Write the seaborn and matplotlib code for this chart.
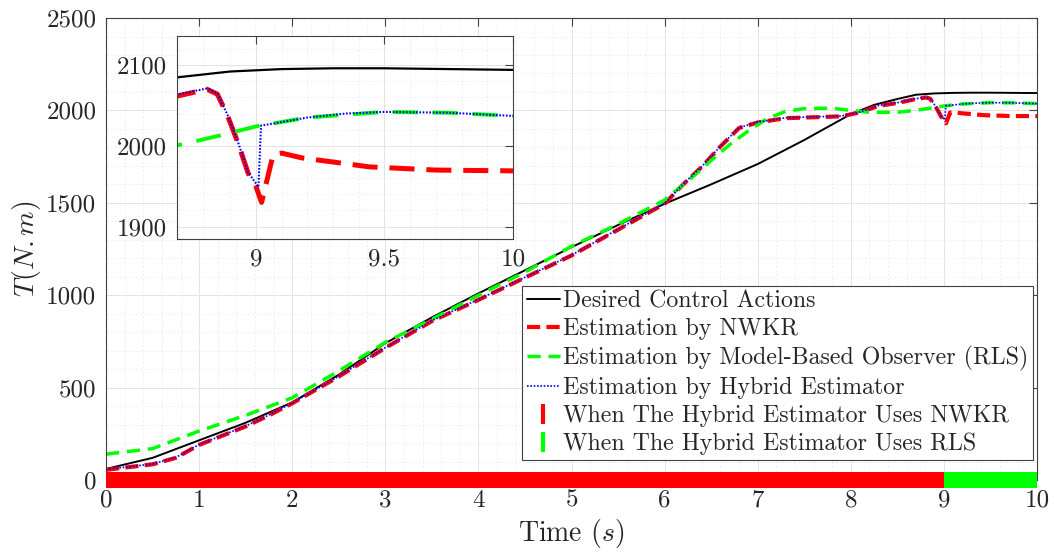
import numpy as np
import pandas as pd
import matplotlib
matplotlib.use("Agg")
import matplotlib.pyplot as plt
from matplotlib.lines import Line2D
from matplotlib.ticker import MultipleLocator
import seaborn as sns

# ---------------- data ----------------
t_des = [0, 0.5, 1, 1.5, 2, 2.5, 3, 3.5, 4, 4.5, 5, 5.5, 6, 6.5, 7, 7.5, 8, 8.25, 8.5,
         8.7, 8.9, 9.1, 9.3, 9.5, 9.75, 10]
desired = [60, 120, 215, 310, 420, 570, 740, 880, 1010, 1135, 1260, 1380, 1495, 1600,
           1710, 1840, 1980, 2030, 2062, 2085, 2092, 2095, 2096, 2096, 2095, 2094]

t_nwkr = [0, 0.25, 0.5, 0.75, 1, 1.25, 1.5, 1.75, 2, 2.5, 3, 3.5, 4, 4.5, 5, 5.5, 6,
          6.2, 6.4, 6.6, 6.8, 7.0, 7.3, 7.6, 7.9, 8.1, 8.3, 8.5, 8.7, 8.81, 8.85, 8.89,
          8.93, 8.97, 9.0, 9.022, 9.045, 9.067, 9.1, 9.18, 9.3, 9.44, 9.7, 10]
nwkr = [55, 70, 85, 120, 190, 240, 290, 350, 415, 560, 715, 860, 975, 1095, 1215, 1355,
        1495, 1600, 1695, 1805, 1905, 1935, 1958, 1963, 1968, 1990, 2025, 2040, 2062,
        2070, 2064, 2037, 2004, 1966, 1950, 1930, 1960, 1989, 1991, 1985, 1980, 1974,
        1970, 1969]

t_rls = [0, 0.5, 1, 1.5, 2, 2.5, 3, 3.5, 4, 4.5, 5, 5.5, 6, 6.3, 6.5, 6.7, 6.9, 7.1,
         7.3, 7.5, 7.8, 8.0, 8.2, 8.5, 8.7, 8.85, 9.0, 9.2, 9.5, 9.75, 10]
rls = [140, 170, 265, 350, 445, 590, 745, 870, 1000, 1125, 1265, 1385, 1515, 1640, 1730,
       1815, 1890, 1955, 1995, 2010, 2012, 2000, 1990, 1990, 2001, 2012, 2024, 2035,
       2042, 2041, 2037]

t_hyb = [0, 0.25, 0.5, 0.75, 1, 1.25, 1.5, 1.75, 2, 2.5, 3, 3.5, 4, 4.5, 5, 5.5, 6,
         6.2, 6.4, 6.6, 6.8, 7.0, 7.3, 7.6, 7.9, 8.1, 8.3, 8.5, 8.7, 8.81, 8.85, 8.89,
         8.93, 8.97, 9.01, 9.02, 9.2, 9.35, 9.5, 9.75, 10]
hybrid = [58, 72, 87, 122, 192, 242, 292, 352, 417, 562, 717, 862, 977, 1097, 1217, 1357,
          1497, 1602, 1697, 1807, 1907, 1937, 1960, 1965, 1970, 1992, 2027, 2042, 2064,
          2071, 2065, 2038, 2005, 1967, 1949, 2025, 2035, 2040, 2042, 2041, 2037]

# estimator in use by the hybrid scheme: (start, end, mode)
mode_start = [0, 9]
mode_end = [9, 10]
mode_name = ["NWKR", "RLS"]

x_ticks = [0, 1, 2, 3, 4, 5, 6, 7, 8, 9, 10]
y_ticks = [0, 500, 1000, 1500, 2000, 2500]
inset_x_ticks = [9, 9.5, 10]
inset_y_ticks = [1900, 2000, 2100]

labels = ["Desired Control Actions", "Estimation by NWKR",
          "Estimation by Model-Based Observer (RLS)", "Estimation by Hybrid Estimator",
          "When The Hybrid Estimator Uses NWKR", "When The Hybrid Estimator Uses RLS"]

# ---------------- style ----------------
sns.set_theme(style="white")
plt.rcParams["font.family"] = ["cmr10", "DejaVu Serif"]
plt.rcParams["mathtext.fontset"] = "cm"
plt.rcParams["axes.formatter.use_mathtext"] = True
plt.rcParams["lines.scale_dashes"] = False
plt.rcParams["axes.unicode_minus"] = False

RED, GREEN, BLUE, BLACK = "#ff0000", "#00ff00", "#0000ff", "#000000"
AXC = "#404040"

fig = plt.figure(figsize=(10.54, 5.55), dpi=100)
ax = fig.add_axes([0.1006, 0.1351, 0.8833, 0.8324])


def style_axes(a, fs):
    for s in a.spines.values():
        s.set_color(AXC)
        s.set_linewidth(0.8)
    a.tick_params(which="major", direction="in", length=6, width=0.8, colors=AXC,
                  top=True, right=True, labelsize=fs, labelcolor="#262626", pad=7)
    a.tick_params(which="minor", length=0)
    a.grid(True, which="major", color="#e3e3e3", lw=0.7, ls="-")
    a.grid(True, which="minor", color="#ececec", lw=0.6, ls=(0, (1.5, 1.5)))
    a.set_axisbelow(True)


def draw_series(a, inset=False):
    k = 1.9 if inset else 1.0
    sns.lineplot(x=t_des, y=desired, ax=a, color=BLACK, lw=1.4 if not inset else 1.6,
                 sort=False, estimator=None)
    sns.lineplot(x=t_nwkr, y=nwkr, ax=a, color=RED, lw=3.0 if not inset else 3.6,
                 sort=False, estimator=None, dashes=False,
                 linestyle=(0, (9.5 * k, 4.5 * k)))
    sns.lineplot(x=t_rls, y=rls, ax=a, color=GREEN, lw=2.5 if not inset else 2.8,
                 sort=False, estimator=None, dashes=False,
                 linestyle=(0, (9.5 * k, 7.0 * k * 0.8)))
    sns.lineplot(x=t_hyb, y=hybrid, ax=a, color=BLUE, lw=1.2 if not inset else 1.5,
                 sort=False, estimator=None, dashes=False,
                 linestyle=(0, (1.2, 1.2)))


style_axes(ax, 18)
draw_series(ax)

# hybrid mode bar along y = 0
for s, e, m in zip(mode_start, mode_end, mode_name):
    ax.plot([s, e], [0, 0], color=RED if m == "NWKR" else GREEN, lw=11.5,
            solid_capstyle="butt", clip_on=False, zorder=5)

ax.set_xlim(0, 10)
ax.set_ylim(0, 2500)
ax.set_xticks(x_ticks)
ax.set_xticklabels([f"{v:g}" for v in x_ticks])
ax.set_yticks(y_ticks)
ax.set_yticklabels([f"{v:g}" for v in y_ticks])
ax.xaxis.set_minor_locator(MultipleLocator(0.2))
ax.yaxis.set_minor_locator(MultipleLocator(100))
ax.set_xlabel("Time ($s$)", fontsize=20, color="#262626", labelpad=4)
ax.set_ylabel("$T(N.m)$", fontsize=20, color="#262626", labelpad=2)

handles = [
    Line2D([], [], color=BLACK, lw=1.4),
    Line2D([], [], color=RED, lw=3.0, ls=(0, (9.5, 4.5))),
    Line2D([], [], color=GREEN, lw=2.5, ls=(0, (9.5, 5.6))),
    Line2D([], [], color=BLUE, lw=1.2, ls=(0, (1.2, 1.2))),
    Line2D([], [], color=RED, ls="none", marker="|", markersize=14, mew=3),
    Line2D([], [], color=GREEN, ls="none", marker="|", markersize=14, mew=3),
]
leg = ax.legend(handles, labels, loc="lower right", bbox_to_anchor=(0.9957, 0.0433),
                fontsize=17.2, frameon=True, fancybox=False, framealpha=1,
                edgecolor=AXC, handlelength=1.4, handletextpad=0.12,
                labelspacing=0.24, borderpad=0.2, borderaxespad=0)
leg.get_frame().set_linewidth(0.8)
leg.set_zorder(10)

# ---------------- inset ----------------
axi = fig.add_axes([0.1679, 0.5694, 0.3188, 0.3658])
axi.set_facecolor("white")
style_axes(axi, 18)
draw_series(axi, inset=True)
axi.set_xlim(8.693, 10)
axi.set_ylim(1884.7, 2136)
axi.set_xticks(inset_x_ticks)
axi.set_xticklabels([f"{v:g}" for v in inset_x_ticks])
axi.set_yticks(inset_y_ticks)
axi.set_yticklabels([f"{v:g}" for v in inset_y_ticks])
axi.xaxis.set_minor_locator(MultipleLocator(0.1))
axi.yaxis.set_minor_locator(MultipleLocator(20))
axi.set_xlabel("")
axi.set_ylabel("")

fig.savefig("out.png", dpi=100)
